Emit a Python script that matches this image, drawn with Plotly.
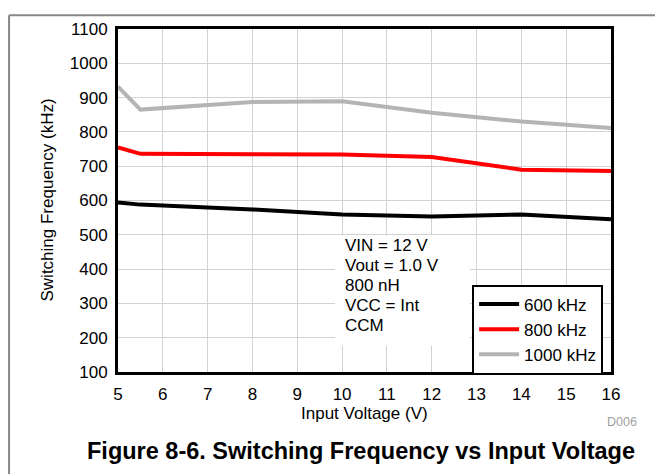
import plotly.graph_objects as go

# Input voltage (V)
vin = [5, 5.5, 8, 10, 12, 14, 16]

# Switching frequency (kHz) per setting
f_600 = [594, 588, 574, 559, 553, 559, 545]
f_800 = [755, 736, 735, 734, 727, 690, 686]
f_1000 = [932, 865, 887, 889, 856, 830, 811]

names = ["600 kHz", "800 kHz", "1000 kHz"]
colors = ["#000000", "#ff0000", "#b4b4b4"]

conditions = ["VIN = 12 V", "Vout = 1.0 V", "800 nH", "VCC = Int", "CCM"]

font = "Liberation Sans, Arial, sans-serif"

fig = go.Figure()

for name, ys, col in zip(names, [f_600, f_800, f_1000], colors):
    fig.add_trace(go.Scatter(
        x=vin, y=ys, mode="lines", name=name,
        line=dict(color=col, width=4)
    ))

# white patch behind the conditions text
fig.add_shape(type="rect", xref="paper", yref="paper",
              x0=0.440, x1=0.714, y0=0.077, y1=0.398,
              fillcolor="white", line=dict(width=0), layer="above")

line_y = [0.370, 0.311, 0.253, 0.195, 0.137]
for txt, yy in zip(conditions, line_y):
    fig.add_annotation(
        x=0.456, y=yy, xref="paper", yref="paper",
        xanchor="left", yanchor="middle", text=txt, showarrow=False,
        font=dict(family=font, size=17, color="black"),
    )

# axis titles
fig.add_annotation(
    x=-0.144, y=0.5, xref="paper", yref="paper", textangle=-90,
    text="Switching Frequency (kHz)", showarrow=False,
    xanchor="center", yanchor="middle",
    font=dict(family=font, size=17, color="black"),
)
fig.add_annotation(
    x=0.5, y=-0.12, xref="paper", yref="paper",
    text="Input Voltage (V)", showarrow=False,
    xanchor="center", yanchor="middle",
    font=dict(family=font, size=17, color="black"),
)

# figure caption
fig.add_annotation(
    x=0.493, y=-0.229, xref="paper", yref="paper",
    text="<b>Figure 8-6. Switching Frequency vs Input Voltage</b>",
    showarrow=False, xanchor="center", yanchor="middle",
    font=dict(family=font, size=23.5, color="black"),
)
fig.add_annotation(
    x=1.022, y=-0.146, xref="paper", yref="paper",
    text="D006", showarrow=False, xanchor="center", yanchor="middle",
    font=dict(family=font, size=12.5, color="#a0a0a0"),
)

# outer frame lines (page border of the datasheet figure)
fig.add_shape(type="line", xref="paper", yref="paper",
              x0=-0.221, x1=1.12, y0=1.040, y1=1.040,
              line=dict(color="#888888", width=2))
fig.add_shape(type="line", xref="paper", yref="paper",
              x0=-0.221, x1=-0.221, y0=1.040, y1=-0.3,
              line=dict(color="#888888", width=2))

# page body adds an 8px offset, so the figure is 8px smaller than the window
fig.update_layout(
    width=655, height=466,
    margin=dict(l=110, r=52, t=15, b=102),
    paper_bgcolor="white", plot_bgcolor="white",
    font=dict(family=font, size=17, color="black"),
    showlegend=True,
    legend=dict(
        x=0.984, y=0.255, xanchor="right", yanchor="top",
        bgcolor="white", bordercolor="black", borderwidth=2,
        font=dict(size=17), tracegroupgap=0, itemwidth=40,
    ),
    xaxis=dict(
        range=[5, 16], dtick=1, showgrid=True, gridcolor="#d2d2d2",
        gridwidth=1, showline=True, linecolor="black", linewidth=3,
        mirror=True, ticks="", zeroline=False, ticklabelstandoff=5,
    ),
    yaxis=dict(
        range=[100, 1100], dtick=100, showgrid=True, gridcolor="#d2d2d2",
        gridwidth=1, showline=True, linecolor="black", linewidth=3,
        mirror=True, ticks="", zeroline=False, ticklabelstandoff=4,
    ),
)

fig.write_html("out.html")
